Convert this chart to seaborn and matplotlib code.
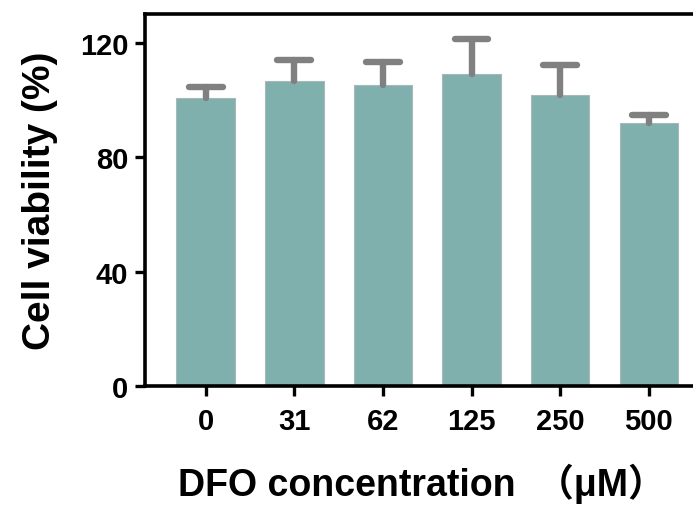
import pandas as pd
import matplotlib.pyplot as plt
import seaborn as sns

# Cell viability vs DFO concentration
conc = ["0", "31", "62", "125", "250", "500"]
viability = [100.8, 106.9, 105.3, 109.3, 101.7, 92.1]
sd_upper = [3.9, 7.2, 8.1, 12.1, 10.6, 2.7]

df = pd.DataFrame({"conc": conc, "viability": viability, "sd": sd_upper})

sns.set_style("ticks")
plt.rcParams["font.family"] = ["Liberation Sans", "Noto Sans CJK SC"]
plt.rcParams["font.weight"] = "bold"
plt.rcParams["text.color"] = "black"
plt.rcParams["axes.labelcolor"] = "black"
plt.rcParams["xtick.color"] = "black"
plt.rcParams["ytick.color"] = "black"

fig = plt.figure(figsize=(6.93, 5.10), dpi=100)
ax = fig.add_axes([0.2092, 0.2412, 0.80, 0.7294])

sns.barplot(data=df, x="conc", y="viability", order=conc, width=0.66,
            color="#7fb0ad", saturation=1, edgecolor="#a9b8b6", linewidth=0.8,
            errorbar=None, ax=ax)

# upper-only error bars, grey with round caps
xs = range(len(conc))
tops = df["viability"] + df["sd"]
ax.vlines(xs, df["viability"], tops, color="#808080", linewidth=4.6,
          capstyle="round", zorder=3)
ax.hlines(tops, [x - 0.19 for x in xs], [x + 0.19 for x in xs], color="#808080",
          linewidth=4.6, capstyle="round", zorder=3)

ax.set_xlim(-0.685, 5.57)
ax.set_ylim(0, 130.2)
ax.set_yticks([0, 40, 80, 120])

for side in ["left", "top", "bottom"]:
    ax.spines[side].set_linewidth(2.6)
    ax.spines[side].set_color("black")
ax.spines["right"].set_visible(False)

ax.tick_params(axis="both", length=7, width=2.4, labelsize=21, pad=5, color="black")
ax.tick_params(axis="x", pad=8)
for lab in ax.get_xticklabels() + ax.get_yticklabels():
    lab.set_fontweight("bold")

ax.set_xlabel("DFO concentration  （μM）", fontsize=27, fontweight="bold", labelpad=20)
ax.set_ylabel("Cell viability (%)", fontsize=28, fontweight="bold", labelpad=16)

plt.savefig("out.png", dpi=100)
plt.close()
